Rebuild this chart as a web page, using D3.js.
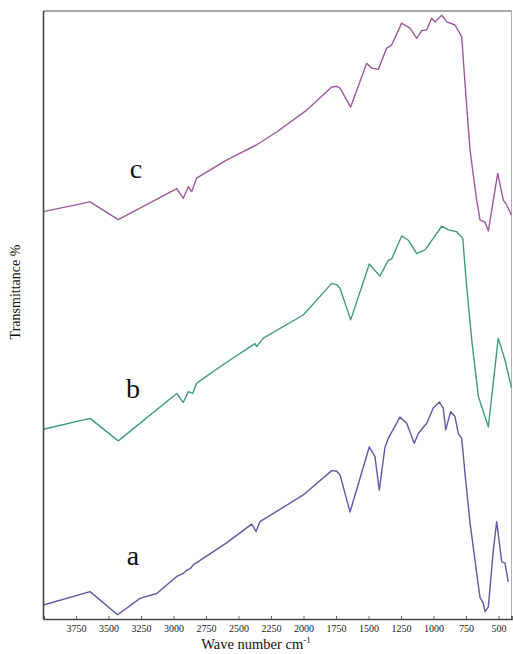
<!DOCTYPE html>
<html><head><meta charset="utf-8">
<script src="https://cdn.jsdelivr.net/npm/d3@7"></script>
<style>body{margin:0;background:#fff}svg{display:block}</style>
</head><body><svg id="c" width="513" height="654"></svg>
<script>
// Wavenumbers (cm-1) and transmittance (arbitrary offset %)
const seriesA_wn = [4000,3642,3430,3258,3129,2975,2925,2900,2870,2848,2600,2398,2365,2335,2002,1783,1745,1719,1642,1494,1450,1417,1373,1348,1258,1206,1148,1117,1052,1002,955,925,906,868,835,809,783,758,719,668,642,617,604,578,540,514,475,450,425];
const seriesA_val = [2.3,4.5,0.7,3.4,4.2,7.0,7.5,8.0,8.3,8.9,12.4,15.6,14.4,16.0,20.4,24.4,24.3,23.7,17.6,28.3,26.7,21.2,28.3,29.7,33.2,32.2,28.9,30.5,32.2,34.7,35.7,34.7,31.1,34.1,33.3,30.5,29.7,24.0,15.8,7.6,3.5,2.6,1.2,2.0,11.3,16.0,9.4,9.2,6.1];

const seriesB_wn = [4000,3642,3425,2975,2925,2886,2852,2822,2600,2373,2360,2309,2002,1783,1745,1719,1637,1494,1412,1348,1322,1245,1194,1129,1065,1002,937,886,822,775,745,706,655,578,502,450,400];
const seriesB_val = [31.2,33.0,29.3,37.1,35.6,37.4,37.1,38.8,42.1,45.3,44.8,46.2,50.0,55.2,55.0,54.4,49.2,58.4,56.4,59.0,59.2,63.0,62.3,60.1,60.7,62.6,64.6,64.0,63.7,62.6,54.7,45.9,36.6,31.6,46.2,42.6,38.0];

const seriesC_wn = [4000,3642,3425,2975,2925,2886,2860,2822,2600,2360,2206,1975,1783,1745,1719,1637,1514,1475,1425,1360,1322,1245,1181,1129,1091,1052,1014,988,937,898,835,783,758,719,668,642,604,578,540,506,463,437,400];
const seriesC_val = [67.0,68.6,65.7,70.8,69.2,71.1,70.3,72.5,75.4,78.0,80.1,83.7,87.5,87.6,87.3,84.2,91.4,90.6,90.4,93.9,94.4,98.0,97.2,95.5,96.8,96.9,98.8,98.2,99.3,98.2,97.7,95.8,88.2,77.1,68.9,65.6,65.3,63.8,68.9,73.3,68.9,68.1,66.4];

const tickValues = [3750,3500,3250,3000,2750,2500,2250,2000,1750,1500,1250,1000,750,500];
const curveLabels = ["a","b","c"];
const curveColors = ["#5a5aa6","#3f9a82","#9c5a9c"];

const svg = d3.select("#c");
const L = 43.5, R = 511.5, T = 11, B = 619;
const x = d3.scaleLinear().domain([4000,400]).range([L,R]);
const y = d3.scaleLinear().domain([0,100]).range([B,T]);

const line = d3.line().x(d=>x(d[0])).y(d=>y(d[1])).curve(d3.curveLinear);

const data = [
  d3.zip(seriesA_wn, seriesA_val),
  d3.zip(seriesB_wn, seriesB_val),
  d3.zip(seriesC_wn, seriesC_val)
];

// frame
svg.append("line").attr("x1",L).attr("x2",R).attr("y1",T).attr("y2",T).attr("stroke","#8a8a8a").attr("stroke-width",1.3);
svg.append("line").attr("x1",R).attr("x2",R).attr("y1",T).attr("y2",B).attr("stroke","#b0b0b0").attr("stroke-width",1);

data.forEach((d,i)=>{
  svg.append("path").datum(d)
    .attr("d",line)
    .attr("fill","none").attr("stroke",curveColors[i]).attr("stroke-width",1.4)
    .attr("stroke-linejoin","round");
});

// axes
const xAxis = d3.axisBottom(x).tickValues(tickValues).tickSize(-3).tickPadding(6).tickFormat(d3.format("d"));
const gx = svg.append("g").attr("transform",`translate(0,${B})`).call(xAxis);
gx.select(".domain").attr("stroke","#444").attr("stroke-width",1.6);
gx.selectAll(".tick line").attr("stroke","#666");
gx.selectAll("text").attr("font-family","'Liberation Serif','Times New Roman',serif").attr("font-size",10).attr("fill","#222");

svg.append("line").attr("x1",L).attr("x2",L).attr("y1",T).attr("y2",B).attr("stroke","#444").attr("stroke-width",1.6);

// labels
const labPos = [[133,565],[133,398],[136,178]];
curveLabels.forEach((t,i)=>{
  svg.append("text").attr("x",labPos[i][0]).attr("y",labPos[i][1])
    .attr("text-anchor","middle").attr("font-family","'Liberation Serif','Times New Roman',serif")
    .attr("font-size",28).attr("fill","#111").text(t);
});

const title = svg.append("text").attr("x",256).attr("y",649).attr("text-anchor","middle")
  .attr("font-family","'Liberation Serif','Times New Roman',serif").attr("font-size",14.5).attr("fill","#111");
title.append("tspan").text("Wave number cm");
title.append("tspan").attr("font-size",9).attr("dy",-6).text("-1");

svg.append("text").attr("transform","translate(20,292) rotate(-90)").attr("text-anchor","middle")
  .attr("font-family","'Liberation Serif','Times New Roman',serif").attr("font-size",14).attr("fill","#111")
  .text("Transmittance %");
</script></body></html>
